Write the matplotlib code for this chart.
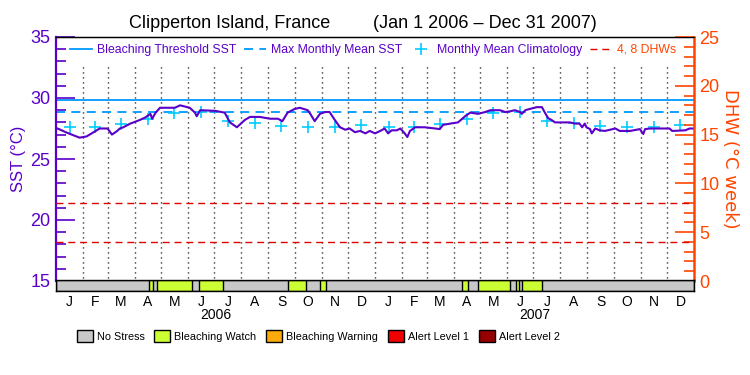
import numpy as np
import matplotlib
matplotlib.use("Agg")
import matplotlib.pyplot as plt
from matplotlib.lines import Line2D
from matplotlib.patches import Patch
from matplotlib.ticker import MultipleLocator
import matplotlib.transforms as mtransforms

plt.rcParams['font.family'] = ['Liberation Sans', 'DejaVu Sans']

# ---- data ----
start = np.datetime64('2006-01-01')
end = np.datetime64('2008-01-01')

# days since Jan 1 2006 and daily SST (degC)
sst_day = [0, 5, 11, 18, 27, 35, 42, 50, 59, 64, 70, 73, 77, 85, 96, 102, 108, 110,
           114, 119, 136, 142, 153, 159, 161, 165, 182, 193, 199, 207, 216, 222, 233,
           245, 254, 259, 265, 273, 279, 288, 291, 296, 302, 308, 313, 319, 325, 331,
           336, 342, 348, 354, 359, 365, 371, 376, 380, 384, 390, 394, 399, 402, 405,
           411, 422, 434, 439, 443, 451, 460, 468, 474, 483, 491, 497, 508, 514, 519,
           525, 531, 533, 537, 542, 550, 556, 559, 563, 567, 571, 588, 594, 599, 602,
           605, 607, 611, 613, 617, 622, 628, 640, 645, 657, 668, 672, 674, 680, 702,
           705, 720, 725, 730]
sst_val = [27.55, 27.4, 27.2, 27.0, 26.75, 26.85, 27.15, 27.5, 27.5, 27.0, 27.3, 27.5,
           27.6, 27.9, 28.2, 28.4, 28.7, 28.3, 28.8, 29.2, 29.2, 29.4, 29.2, 28.8, 28.5,
           29.0, 28.95, 28.8, 28.0, 27.6, 28.2, 28.45, 28.45, 28.3, 28.3, 28.1, 28.8,
           29.1, 29.2, 29.0, 28.7, 28.1, 28.7, 28.85, 28.85, 28.2, 27.6, 27.4, 27.5,
           27.2, 27.3, 27.1, 27.3, 27.1, 27.3, 27.5, 27.1, 27.35, 27.35, 27.5, 27.1,
           26.8, 27.3, 27.6, 27.6, 27.5, 27.45, 27.8, 27.9, 28.0, 28.5, 28.8, 28.7,
           28.85, 29.0, 29.0, 28.85, 28.9, 29.0, 28.85, 28.7, 29.0, 29.1, 29.25, 29.25,
           28.85, 28.35, 28.2, 28.0, 28.0, 27.9, 27.9, 27.6, 27.9, 27.6, 27.45, 27.1,
           27.5, 27.35, 27.3, 27.5, 27.3, 27.3, 27.45, 27.05, 27.45, 27.5, 27.5, 27.3,
           27.35, 27.5, 27.5]

# monthly mean climatology (Jan..Dec)
clim = [27.6, 27.6, 27.9, 28.3, 28.8, 28.87, 28.1, 27.95, 27.7, 27.6, 27.6, 27.8]
mmm = 28.87
threshold = mmm + 1.0
dhw_levels = [4, 8]

# bleaching status periods (start day, end day) -> Bleaching Watch
watch_start = [106.8, 115.2, 164.0, 265.8, 302.1, 464.2, 483.2, 526.3, 533.2]
watch_end = [111.3, 156.0, 191.4, 286.0, 308.9, 471.8, 519.5, 529.8, 556.4]

month_letters = ['J', 'F', 'M', 'A', 'M', 'J', 'J', 'A', 'S', 'O', 'N', 'D']
years = ['2006', '2007']

status_names = ['No Stress', 'Bleaching Watch', 'Bleaching Warning',
                'Alert Level 1', 'Alert Level 2']
status_colors = ['#c8c8c8', '#ccff33', '#fcaa0c', '#f00000', '#960000']

# ---- derived calendar positions ----
months = np.arange('2006-01', '2008-01', dtype='datetime64[M]')
m_start = (months.astype('datetime64[D]') - start).astype(int)
m_end = np.append(m_start[1:], (end - start).astype(int))
m_mid = (m_start + m_end) / 2.0
total_days = int((end - start).astype(int))

purple = '#5a00c8'
orange = '#ff4500'
blue = '#0099ff'
cyan = '#00ccff'

fig = plt.figure(figsize=(7.5, 3.75), dpi=100)
ax = fig.add_axes([56 / 750, 1 - 281 / 375, 638 / 750, 244 / 375])
ax2 = ax.twinx()
sbar = fig.add_axes([56 / 750, 1 - 291 / 375, 638 / 750, 11 / 375])

# month dividers
for d in m_start[1:]:
    ax.axvline(d, ymin=0.012, ymax=0.893, color='black', lw=1.0,
               linestyle=(0, (0.8, 2.8)), zorder=1)

ax.axhline(threshold, color=blue, lw=1.3, zorder=2)
ax.axhline(mmm, color=blue, lw=1.3, linestyle=(0, (5, 3.5)), zorder=2)
ax.plot(m_mid, clim * 2, linestyle='none', marker='+', ms=9, mew=1.2,
        color=cyan, zorder=3)
ax.plot(sst_day, sst_val, color=purple, lw=1.5, zorder=4)

for lvl in dhw_levels:
    ax2.axhline(lvl, color='#e00000', lw=1.0, linestyle=(0, (5, 3.5)))

ax.set_xlim(0, total_days)
ax.set_ylim(15, 35)
ax2.set_ylim(0, 25)

ax.yaxis.set_major_locator(MultipleLocator(5))
ax.yaxis.set_minor_locator(MultipleLocator(1))
ax2.yaxis.set_major_locator(MultipleLocator(5))
ax2.yaxis.set_minor_locator(MultipleLocator(1))
ax.tick_params(axis='y', which='major', direction='in', length=14, width=1.2,
               color=purple, labelcolor=purple, labelsize=13, pad=4)
ax.tick_params(axis='y', which='minor', direction='in', length=7, width=1.2, color=purple)
ax2.tick_params(axis='y', which='major', direction='in', length=14, width=1.2,
                color=orange, labelcolor=orange, labelsize=13, pad=4)
ax2.tick_params(axis='y', which='minor', direction='in', length=7, width=1.2, color=orange)
ax.set_xticks([])
ax2.set_xticks([])

ax.spines['left'].set_color(purple)
ax.spines['left'].set_linewidth(1.6)
ax2.spines['left'].set_visible(False)
ax2.spines['right'].set_color(orange)
ax2.spines['right'].set_linewidth(1.8)
ax.spines['right'].set_visible(False)
ax.spines['bottom'].set_visible(False)
ax2.spines['bottom'].set_visible(False)
ax.spines['top'].set_linewidth(1.0)

ax.set_ylabel('SST (\u00b0C)', color=purple, fontsize=12, labelpad=3)
ax2.set_ylabel('DHW (\u00b0C week)', color=orange, fontsize=13, rotation=270,
               labelpad=14, family='DejaVu Sans')

handles = [Line2D([], [], color=blue, lw=1.3),
           Line2D([], [], color=blue, lw=1.3, linestyle=(0, (5, 3.5))),
           Line2D([], [], color=cyan, marker='+', ms=9, mew=1.2, linestyle='none'),
           Line2D([], [], color='#e00000', lw=1.0, linestyle=(0, (5, 3.5)))]
labels = ['Bleaching Threshold SST', 'Max Monthly Mean SST',
          'Monthly Mean Climatology', '4, 8 DHWs']
ax.legend(handles, labels, loc='center', bbox_to_anchor=(0.497, 0.947), ncol=4,
          frameon=False, fontsize=8.8, handlelength=1.8, handletextpad=0.45,
          columnspacing=0.6, labelcolor=[purple] * 3 + [orange])

# status bar
sbar.broken_barh([(0, total_days)], (0, 1), facecolor=status_colors[0],
                 edgecolor='black', lw=1.0)
sbar.broken_barh([(s, e - s) for s, e in zip(watch_start, watch_end)], (0, 1),
                 facecolor=status_colors[1], edgecolor='black', lw=1.0)
sbar.set_xlim(0, total_days)
sbar.set_ylim(0, 1)
sbar.set_yticks([])
sbar.set_xticks(m_mid)
sbar.set_xticklabels(month_letters * 2, fontsize=10)
sbar.tick_params(axis='x', length=0, pad=3)
for sp in sbar.spines.values():
    sp.set_linewidth(1.0)

trans = mtransforms.blended_transform_factory(sbar.transData, fig.transFigure)
for i, yr in enumerate(years):
    mid = (m_start[12 * i] + m_end[12 * i + 11]) / 2.0
    sbar.text(mid, 1 - 315 / 375, yr, transform=trans, ha='center', va='center',
              fontsize=10)

fig.text(330 / 750, 1 - 23 / 375, 'Clipperton Island, France', ha='right',
         va='center', fontsize=13)
fig.text(373 / 750, 1 - 23 / 375, '(Jan 1 2006 \u2013 Dec 31 2007)', ha='left',
         va='center', fontsize=13)

patches = [Patch(facecolor=c, edgecolor='black', lw=1.0) for c in status_colors]
fig.legend(patches, status_names, loc='center', bbox_to_anchor=(318 / 750, 1 - 336 / 375),
           ncol=5, frameon=False, fontsize=7.8, handlelength=1.5, handleheight=1.3,
           handletextpad=0.35, columnspacing=0.9)

fig.savefig('out.png', dpi=100)
